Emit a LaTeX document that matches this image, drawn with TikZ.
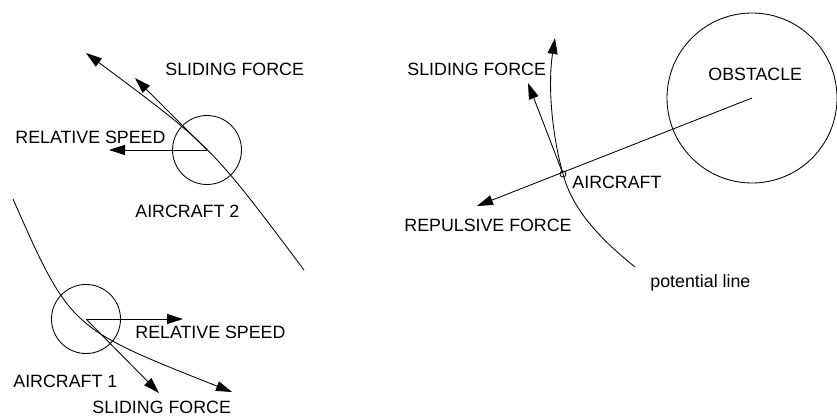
\documentclass[tikz,border=0pt]{standalone}
\usepackage{fontspec}
\setmainfont{Liberation Sans}
\usetikzlibrary{arrows.meta}
\begin{document}
\begin{tikzpicture}[x=1pt,y=-1pt,
  line width=0.85pt,
  vec/.style={-{Triangle[length=16pt,width=10pt]}},
  lbl/.style={anchor=base west,inner sep=0pt,font=\fontsize{17.8}{20}\selectfont},
  craft/.style={circle,draw,minimum size=69pt,inner sep=0pt},
]
\useasboundingbox (0,0) rectangle (837,417);

% ---- two aircraft in conflict ----
\node[craft] (ac2) at (207,150) {};
\node[craft] (ac1) at (86,319) {};

\coordinate (t2start) at (304,270);
\coordinate (t2end) at (86,53);
\coordinate (s2tip) at (135,78);
\coordinate (r2tip) at (109,150);

\coordinate (t1start) at (13,199);
\coordinate (t1end) at (232,392);
\coordinate (s1tip) at (159,393);
\coordinate (r1tip) at (183,319);

% trajectories
\draw[vec] (t2start) .. controls (211,146) .. (t2end);
\draw[vec] (t1start) .. controls (70,328) .. (t1end);
% sliding forces and relative speeds
\draw[vec] (ac2.center) -- (s2tip);
\draw[vec] (ac2.center) -- (r2tip);
\draw[vec] (ac1.center) -- (s1tip);
\draw[vec] (ac1.center) -- (r1tip);

\node[lbl] (l1) at (165,75.5) {SLIDING FORCE};
\node[lbl] (l2) at (15,143) {RELATIVE SPEED};
\node[lbl] (l3) at (135,217) {AIRCRAFT 2};
\node[lbl] (l4) at (135,338) {RELATIVE SPEED};
\node[lbl] (l5) at (13,387) {AIRCRAFT 1};
\node[lbl] (l6) at (92,413) {SLIDING FORCE};

% ---- aircraft near an obstacle ----
\node[circle,draw,minimum size=170pt,inner sep=0pt] (obs) at (752,98) {};
\node[circle,draw,minimum size=6pt,inner sep=0pt] (ac) at (563,174) {};

\coordinate (reptip) at (477,206);
\coordinate (slidetip) at (528,83);
\coordinate (pbot) at (635,267);
\coordinate (ptop) at (555,38);

\draw[vec] (obs.center) -- (reptip);
\draw[vec] (ac) -- (slidetip);
\draw[vec] (pbot) .. controls (604,242) and (573,212) .. (ac.center)
  .. controls (551,131) and (548,83) .. (ptop);

\node[lbl] (o1) at (708,80.5) {OBSTACLE};
\node[lbl] (o2) at (407,76) {SLIDING FORCE};
\node[lbl] (o3) at (572,188) {AIRCRAFT};
\node[lbl] (o4) at (404,231.5) {REPULSIVE FORCE};
\node[lbl] (o5) at (650,287) {potential line};
\end{tikzpicture}
\end{document}
